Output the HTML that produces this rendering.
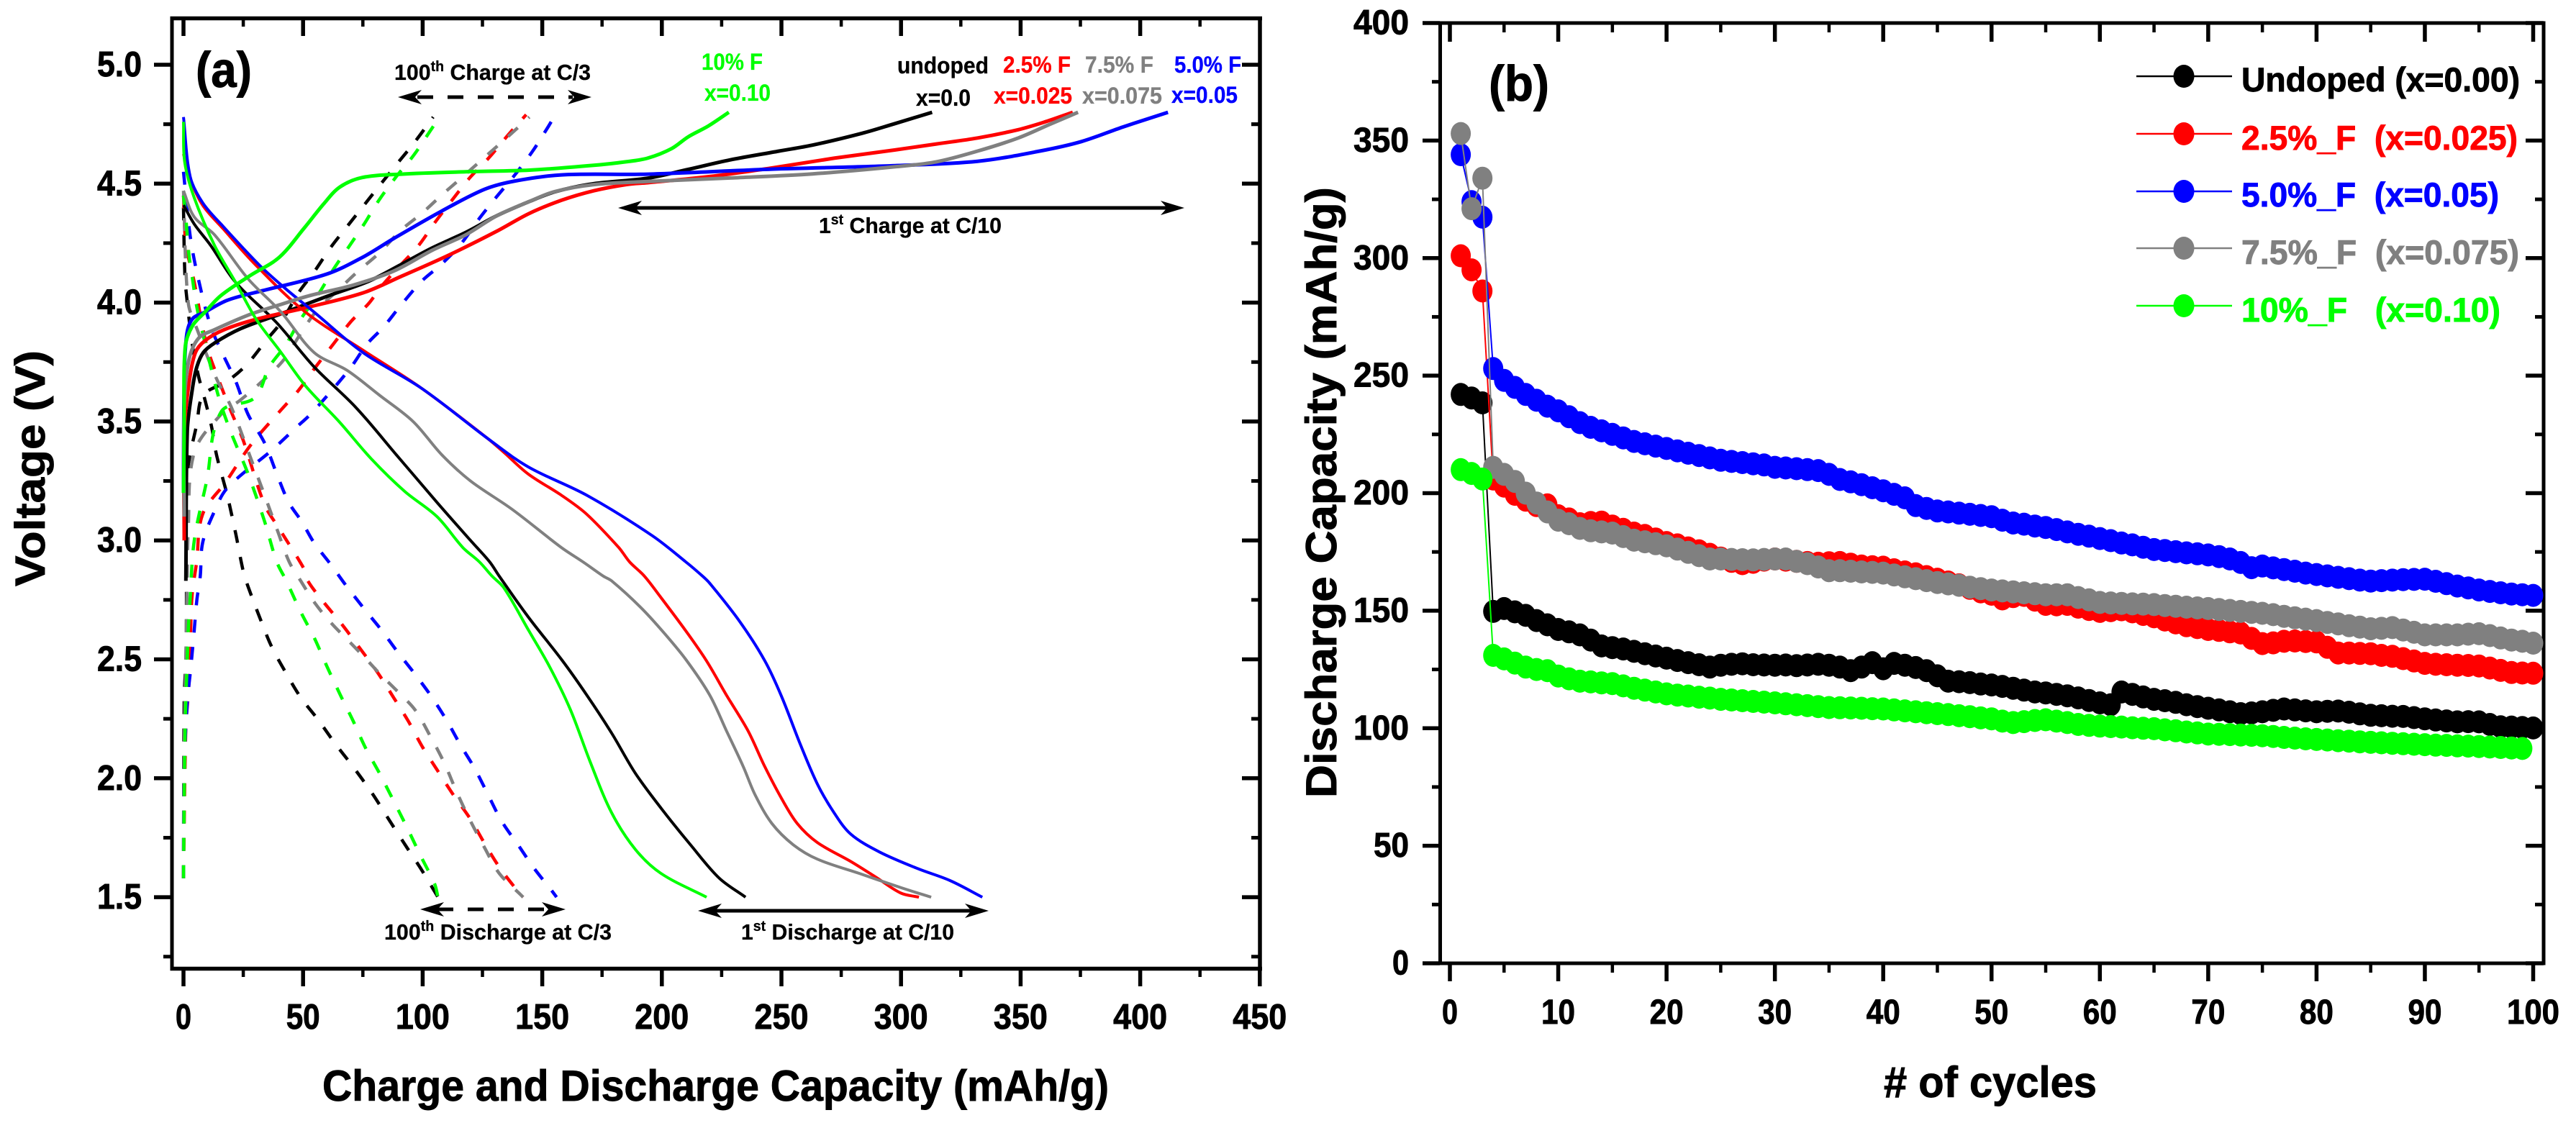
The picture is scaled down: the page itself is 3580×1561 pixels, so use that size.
<!DOCTYPE html>
<html lang="en">
<head>
<meta charset="utf-8">
<title>Charge/discharge voltage profiles and cycling capacity</title>
<style>
html,body{margin:0;padding:0;background:#fff;}
svg{display:block;}
text{font-family:"Liberation Sans",Arial,sans-serif;font-weight:bold;white-space:pre;}
</style>
</head>
<body>
<svg id="chart" xmlns="http://www.w3.org/2000/svg" width="3580" height="1561" viewBox="0 0 3580 1561">
  <rect x="0" y="0" width="3580" height="1561" fill="#fff"/>
  <g id="panelA"></g>
  <g id="panelB"></g>

  <g>
    <text x="272" y="121" font-size="70" textLength="78" lengthAdjust="spacingAndGlyphs">(a)</text>
    <text x="975" y="97" font-size="32" fill="#00ff00" textLength="85" lengthAdjust="spacingAndGlyphs">10% F</text>
    <text x="979" y="140" font-size="32" fill="#00ff00" textLength="92" lengthAdjust="spacingAndGlyphs">x=0.10</text>
    <text x="1247" y="102" font-size="32" fill="#000" textLength="127" lengthAdjust="spacingAndGlyphs">undoped</text>
    <text x="1394" y="101" font-size="32" fill="#ff0000" textLength="94" lengthAdjust="spacingAndGlyphs">2.5% F</text>
    <text x="1508" y="101" font-size="32" fill="#808080" textLength="95" lengthAdjust="spacingAndGlyphs">7.5% F</text>
    <text x="1632" y="101" font-size="32" fill="#0000ff" textLength="93" lengthAdjust="spacingAndGlyphs">5.0% F</text>
    <text x="1273" y="147" font-size="32" fill="#000" textLength="76" lengthAdjust="spacingAndGlyphs">x=0.0</text>
    <text x="1381" y="144" font-size="32" fill="#ff0000" textLength="109" lengthAdjust="spacingAndGlyphs">x=0.025</text>
    <text x="1504" y="144" font-size="32" fill="#808080" textLength="111" lengthAdjust="spacingAndGlyphs">x=0.075</text>
    <text x="1628" y="143" font-size="32" fill="#0000ff" textLength="92" lengthAdjust="spacingAndGlyphs">x=0.05</text>

    <text x="548" y="111" font-size="31" textLength="273" lengthAdjust="spacingAndGlyphs">100<tspan font-size="20" dy="-12">th</tspan><tspan dy="12"> Charge at C/3</tspan></text>
    <g>
      <line x1="580" y1="135" x2="796" y2="135" stroke="#000" stroke-width="5" stroke-dasharray="22 20"/>
      <polygon points="553,135 586,125 577,135 586,145" fill="#000"/>
      <polygon points="822,135 789,125 798,135 789,145" fill="#000"/>
    </g>
    <text x="1138" y="324" font-size="31" textLength="254" lengthAdjust="spacingAndGlyphs">1<tspan font-size="20" dy="-12">st</tspan><tspan dy="12"> Charge at C/10</tspan></text>
    <g>
      <line x1="880" y1="289" x2="1625" y2="289" stroke="#000" stroke-width="5"/>
      <polygon points="859,289 892,279 883,289 892,299" fill="#000"/>
      <polygon points="1646,289 1613,279 1622,289 1613,299" fill="#000"/>
    </g>
    <text x="534" y="1306" font-size="31" textLength="316" lengthAdjust="spacingAndGlyphs">100<tspan font-size="20" dy="-12">th</tspan><tspan dy="12"> Discharge at C/3</tspan></text>
    <g>
      <line x1="608" y1="1264" x2="765" y2="1264" stroke="#000" stroke-width="5" stroke-dasharray="22 20"/>
      <polygon points="584,1264 617,1254 608,1264 617,1274" fill="#000"/>
      <polygon points="786,1264 753,1254 762,1264 753,1274" fill="#000"/>
    </g>
    <text x="1030" y="1306" font-size="31" textLength="296" lengthAdjust="spacingAndGlyphs">1<tspan font-size="20" dy="-12">st</tspan><tspan dy="12"> Discharge at C/10</tspan></text>
    <g>
      <line x1="990" y1="1266" x2="1354" y2="1266" stroke="#000" stroke-width="5"/>
      <polygon points="970,1266 1003,1256 994,1266 1003,1276" fill="#000"/>
      <polygon points="1374,1266 1341,1256 1350,1266 1341,1276" fill="#000"/>
    </g>

    <text x="448" y="1530" font-size="60" textLength="1093" lengthAdjust="spacingAndGlyphs">Charge and Discharge Capacity (mAh/g)</text>
    <text transform="translate(62,815) rotate(-90)" x="0" y="0" font-size="58" textLength="328" lengthAdjust="spacingAndGlyphs">Voltage (V)</text>
  </g>

  <g>
    <text x="2069" y="140" font-size="70" textLength="84" lengthAdjust="spacingAndGlyphs">(b)</text>
    <text x="2618" y="1525" font-size="60" textLength="296" lengthAdjust="spacingAndGlyphs"># of cycles</text>
    <text transform="translate(1857,1109) rotate(-90)" x="0" y="0" font-size="60" textLength="849" lengthAdjust="spacingAndGlyphs">Discharge Capacity (mAh/g)</text>

    <g>
      <g>
        <line x1="2969" y1="106" x2="3102" y2="106" stroke="#000" stroke-width="2.5"/>
        <ellipse cx="3035" cy="106" rx="14.5" ry="16" fill="#000"/>
        <text x="3115" y="127" font-size="47" fill="#000" textLength="387" lengthAdjust="spacingAndGlyphs">Undoped (x=0.00)</text>
      </g>
      <g>
        <line x1="2969" y1="186" x2="3102" y2="186" stroke="#ff0000" stroke-width="2.5"/>
        <ellipse cx="3035" cy="186" rx="14.5" ry="16" fill="#ff0000"/>
        <text x="3115" y="208" font-size="47" fill="#ff0000" textLength="384" lengthAdjust="spacingAndGlyphs">2.5%_F  (x=0.025)</text>
      </g>
      <g>
        <line x1="2969" y1="266" x2="3102" y2="266" stroke="#0000ff" stroke-width="2.5"/>
        <ellipse cx="3035" cy="266" rx="14.5" ry="16" fill="#0000ff"/>
        <text x="3115" y="287" font-size="47" fill="#0000ff" textLength="358" lengthAdjust="spacingAndGlyphs">5.0%_F  (x=0.05)</text>
      </g>
      <g>
        <line x1="2969" y1="345" x2="3102" y2="345" stroke="#808080" stroke-width="2.5"/>
        <ellipse cx="3035" cy="345" rx="14.5" ry="16" fill="#808080"/>
        <text x="3115" y="367" font-size="47" fill="#808080" textLength="386" lengthAdjust="spacingAndGlyphs">7.5%_F  (x=0.075)</text>
      </g>
      <g>
        <line x1="2969" y1="425" x2="3102" y2="425" stroke="#00ff00" stroke-width="2.5"/>
        <ellipse cx="3035" cy="425" rx="14.5" ry="16" fill="#00ff00"/>
        <text x="3115" y="447" font-size="47" fill="#00ff00" textLength="360" lengthAdjust="spacingAndGlyphs">10%_F   (x=0.10)</text>
      </g>
    </g>
  </g>
</svg>

<script>
// ---------- Panel (a) data: [capacity mAh/g, voltage V] ----------
const firstDischargeBlack = [[0,4.41],[4.5,4.33],[11.4,4.24],[21.8,4.085],[39,3.915],[54.6,3.73],[72,3.56],[89,3.36],[106,3.16],[120,3.0],[128,2.91],[132,2.85],[144,2.68],[158,2.5],[168.6,2.35],[179,2.19],[189,2.02],[200,1.87],[212,1.72],[224,1.58],[235,1.5]];
const firstDischargeRed = [[0,4.625],[2.8,4.52],[8,4.41],[16.6,4.31],[30,4.16],[51,3.96],[75,3.8],[99.5,3.64],[127,3.43],[134,3.37],[144,3.28],[158,3.19],[168.6,3.11],[182,2.97],[186.5,2.91],[192.7,2.85],[199.6,2.76],[210,2.62],[218.6,2.495],[227,2.35],[236,2.2],[243,2.05],[250,1.916],[256.6,1.81],[265,1.73],[279,1.65],[289.5,1.584],[300,1.517],[307.5,1.5]];
const firstDischargeBlue = [[0,4.78],[2.8,4.53],[8,4.42],[16.6,4.32],[32,4.155],[42.5,4.06],[54.6,3.96],[75,3.79],[99.5,3.64],[127,3.43],[144,3.31],[168.6,3.19],[196,3.02],[210,2.91],[217,2.85],[220,2.82],[232.5,2.66],[243,2.495],[250,2.345],[258,2.14],[265,1.976],[272,1.855],[279,1.765],[291,1.69],[307,1.62],[320.5,1.57],[334,1.5]];
const firstDischargeGray = [[0,4.47],[4.5,4.36],[13,4.285],[27,4.1],[40.8,3.96],[54.6,3.79],[68.4,3.715],[82,3.61],[96,3.5],[108,3.36],[120,3.25],[137.5,3.13],[158,2.97],[167,2.91],[175.5,2.85],[179,2.83],[191,2.72],[201,2.61],[210,2.5],[220,2.35],[227,2.2],[234,2.05],[239,1.93],[246,1.81],[255,1.72],[265,1.66],[282.5,1.6],[300,1.54],[312.6,1.5]];
const firstDischargeGreen = [[0,4.76],[0.5,4.59],[4.5,4.44],[13,4.24],[21.8,4.085],[30.4,3.93],[40.8,3.79],[51,3.65],[65,3.5],[78.8,3.34],[92.6,3.205],[106,3.1],[116.8,2.97],[123.7,2.91],[129,2.85],[134,2.8],[144.4,2.62],[153,2.47],[161.7,2.29],[170,2.07],[179,1.855],[189,1.7],[199.6,1.6],[218.7,1.5]];

const firstChargeBlack = [[1,2.83],[1.6,3.46],[3.6,3.63],[5.6,3.73],[8.3,3.79],[13,3.83],[23.8,3.89],[40,3.95],[61,4.03],[77.5,4.09],[91,4.16],[104,4.23],[118,4.295],[131,4.365],[144.6,4.425],[155.4,4.466],[171.5,4.5],[194,4.523],[211,4.56],[228.6,4.6],[249,4.637],[263,4.662],[283.8,4.712],[297.6,4.753],[313,4.8]];
const firstChargeRed = [[0.3,3.0],[0.3,3.46],[2.3,3.66],[5,3.79],[9,3.84],[17,3.886],[30.5,3.93],[50.6,3.977],[74.8,4.04],[91,4.11],[111,4.2],[131,4.3],[144.6,4.375],[158,4.43],[171.5,4.47],[185,4.496],[194,4.504],[220,4.53],[246,4.566],[272,4.607],[297.6,4.642],[314.8,4.667],[332,4.692],[349,4.727],[359.7,4.758],[371.8,4.8]];
const firstChargeBlue = [[0,3.2],[0.3,3.66],[1.3,3.86],[3.6,3.93],[9,3.96],[18.4,4.01],[33,4.05],[60,4.12],[74.8,4.19],[88,4.27],[108,4.385],[125.8,4.476],[138,4.51],[158,4.537],[194,4.54],[246,4.561],[297.6,4.576],[332,4.594],[358,4.637],[375.4,4.677],[392.7,4.738],[411.6,4.8]];
const firstChargeGray = [[0.3,3.1],[0.3,3.56],[2.3,3.76],[6.3,3.85],[13,3.886],[27.8,3.95],[40,3.99],[53,4.03],[70.8,4.073],[88,4.133],[104,4.22],[118,4.285],[131,4.365],[144.6,4.425],[155,4.466],[171.5,4.496],[194,4.509],[228.6,4.524],[263,4.541],[297.6,4.571],[314.8,4.592],[332,4.637],[349,4.692],[363,4.753],[374,4.8]];
const firstChargeGreen = [[0,3.2],[0.3,3.46],[0.7,3.81],[3.6,3.9],[9,3.96],[15.7,4.03],[27.8,4.113],[40,4.19],[50.6,4.315],[58.7,4.416],[65.4,4.486],[74.8,4.526],[91,4.54],[118,4.55],[144.6,4.557],[171.5,4.577],[185,4.592],[194,4.607],[204,4.647],[211,4.697],[219.5,4.743],[228,4.8]];

const lastDischargeBlack = [[0,4.4],[0.6,4.11],[1.6,4.0],[3.6,3.83],[6.3,3.69],[9,3.59],[11.7,3.48],[13.8,3.36],[18.3,3.19],[21.8,3.03],[25,2.87],[27,2.806],[32.5,2.66],[37,2.55],[42.6,2.447],[49,2.34],[56,2.25],[63.4,2.146],[70.8,2.05],[78.8,1.938],[86.9,1.81],[93.6,1.706],[99.6,1.614],[106.4,1.5]];
const lastDischargeRed = [[0,4.45],[1,4.25],[4.5,4.085],[9.7,3.82],[14.9,3.67],[20,3.54],[25,3.42],[33.9,3.15],[40,3.05],[51,2.87],[52,2.83],[58,2.748],[66,2.65],[73.5,2.55],[81,2.447],[88,2.337],[94,2.24],[100,2.13],[106,2.036],[112.7,1.932],[120,1.828],[126,1.724],[132.5,1.62],[141,1.51],[142,1.5]];
const lastDischargeBlue = [[0,4.55],[2.8,4.28],[6.2,4.1],[11.4,3.9],[16.6,3.78],[21.8,3.67],[27,3.53],[33.9,3.41],[39,3.28],[44,3.16],[49.4,3.08],[54.6,2.99],[61.5,2.9],[68,2.81],[76,2.707],[83,2.62],[89.6,2.53],[97,2.435],[103.7,2.343],[110,2.244],[115.8,2.14],[121.8,2.04],[127,1.938],[133,1.82],[140,1.718],[146.7,1.62],[154,1.527],[156,1.5]];
const lastDischargeGray = [[0,4.47],[2,4.0],[6,3.88],[13.8,3.68],[20,3.56],[28.7,3.33],[33.9,3.19],[39,3.05],[44.2,2.91],[49,2.83],[55,2.736],[62,2.65],[68.8,2.58],[76,2.505],[82,2.44],[90,2.36],[97,2.285],[103,2.18],[109,2.065],[114.4,1.938],[120,1.82],[126,1.706],[132,1.6],[141,1.51],[142,1.5]];
const lastDischargeGreen = [[0,4.45],[0.9,4.365],[2.3,4.2],[3.6,4.11],[5.6,3.98],[8.3,3.86],[12.4,3.69],[15.7,3.57],[20,3.45],[27,3.28],[33.9,3.08],[39,2.91],[43,2.83],[49,2.7],[54.7,2.59],[60,2.47],[65.4,2.354],[70.8,2.244],[76,2.13],[82,2.02],[87.6,1.91],[93.6,1.79],[99,1.677],[105,1.556],[106.4,1.5]];

const lastChargeBlack = [[0,1.58],[0.3,2.33],[1,2.5],[1.2,2.62],[1.3,3.07],[1.8,3.3],[5.6,3.49],[8.3,3.61],[18.4,3.67],[26.5,3.74],[34.5,3.84],[41,3.92],[48,4.04],[54.7,4.13],[61.4,4.23],[68.8,4.325],[75.5,4.41],[81.5,4.486],[89,4.58],[96.3,4.67],[104.4,4.78]];
const lastChargeRed = [[0,1.58],[1,2.22],[2,2.35],[2.7,2.48],[3,2.62],[3.6,2.77],[5.5,2.91],[8,3.11],[18,3.25],[28,3.4],[40,3.54],[48,3.63],[55.3,3.73],[62.7,3.826],[70,3.92],[77.5,3.997],[82.9,4.07],[91,4.16],[98.3,4.24],[105,4.335],[113,4.44],[119.8,4.526],[127.8,4.61],[136,4.708],[143.3,4.79]];
const lastChargeBlue = [[0,1.58],[0.3,2.04],[1.6,2.32],[3,2.46],[4.3,2.6],[5.6,2.75],[7,2.85],[8,2.99],[12.4,3.11],[18.3,3.22],[37,3.38],[46.6,3.47],[54,3.54],[69.4,3.72],[76.8,3.826],[83.5,3.896],[91,3.99],[99.6,4.09],[107.7,4.16],[115.8,4.244],[123.8,4.355],[131,4.446],[138,4.53],[146,4.637],[152.7,4.743],[154.3,4.77]];
const lastChargeGray = [[0,1.58],[0.3,2.1],[0.7,2.35],[1,2.5],[1.2,2.655],[1.5,2.79],[2,3.05],[4.5,3.37],[15.7,3.53],[23.8,3.59],[33,3.67],[42,3.76],[49,3.87],[56,3.97],[65.4,4.06],[72.8,4.13],[82,4.21],[91,4.305],[99.6,4.375],[108.4,4.456],[116.4,4.526],[125.8,4.61],[134.6,4.688],[144.6,4.78]];
const lastChargeGreen = [[0,1.58],[0.5,2.09],[1,2.33],[1.6,2.5],[2,2.62],[2.7,2.74],[4.5,3.0],[9.7,3.25],[15.7,3.54],[29.8,3.6],[35.9,3.73],[42.6,3.82],[49,3.93],[56.7,4.04],[62.7,4.14],[68.8,4.23],[75.5,4.33],[81.7,4.43],[89,4.53],[96.3,4.62],[103.7,4.73],[105,4.75]];

const capacityTicks = [0,50,100,150,200,250,300,350,400,450];
const voltageTicks = ["1.5","2.0","2.5","3.0","3.5","4.0","4.5","5.0"];

// ---------- Panel (b) data: discharge capacity per cycle ----------
const cycleUndoped = [242,240.5,238.4,149.7,150.9,149.5,148,145.8,144,142,141,139.7,137.5,135,134.3,133.7,132.7,131.7,130.7,129.8,128.8,127.9,127,126,126.8,127.2,127.4,127,126.9,126.8,126.9,126.6,126.9,127.2,126.8,126,124.5,126,127.9,125.3,127.6,126.8,125.8,124.5,122.3,120,119.8,119.4,118.8,118.4,117.8,117,116.2,115.4,115,114.4,113.8,112.9,111.8,110.8,110,115.4,114.4,113.3,112.3,111.7,111,110,109.2,108.5,107.8,107,106.2,106.5,107,107.6,108.2,107.8,107.4,107,107.2,107.3,106.8,106.1,105.5,105.3,105.1,105,104.5,104,103.5,103.1,102.7,102.8,102.7,101.6,100.6,100.5,100.3,100.1];
const cycleF025 = [301,295,286,206,203,199.5,197,194.7,195,190.4,189,187,187.5,187.7,186,184.6,183,182,180.5,179,178,176.7,175.5,174,172.4,171,170,170.6,171.5,172,171.5,171,170.5,170.2,170.4,170.5,169.8,169,168.7,168.5,167.4,166.5,165.7,164.5,163.4,162.2,161,159.5,158,157,155,156,156.5,154.5,152.7,152.5,152.7,151.5,150.5,149.7,150,150.4,149.5,148.4,147.4,146,144.8,143.6,142.8,142,141.6,141,140.5,138.2,136,136.3,137,137.1,136.9,136.7,134.4,132,132,131.8,131.7,131,130.6,129.6,128.6,127.6,127.2,127,126.8,126.7,126.5,125.6,124.6,123.7,123.5,123.4];
const cycleF050 = [344,324,317.4,253,248,245,242,239.5,237,235,232.5,230,228,226.5,225,223.5,222,221,220,219,218,217,216,215,214,213.5,213,212.5,212,211,210.7,210.4,210,209.6,208,205.8,204.8,203.6,202.3,201,199.5,198,194.7,193.5,192.4,192,191.5,191,190.5,190,188.5,187.3,186.8,186,185.4,184.5,183.5,182.5,181.7,180.7,179.8,178.8,178,177,176,175.6,175.1,174.6,174.2,173.7,173,172,170.5,168.3,169,168.2,167.5,166.8,166,165.4,164.8,164.2,163.6,163,162.6,162.8,163,163.2,163.3,163.4,162.5,161.5,160.5,159.7,158.8,158.2,157.6,157.1,156.8,156.5];
const cycleF075 = [353,321,334,211,208,205,200,195.8,192,188.5,187,185,184,183.5,183,181.5,180,179.3,178.5,177.6,176.2,174.8,173.4,172,172,171.8,171.7,171.6,171.8,172,172,171,170,168.6,167,167,166.8,166.5,166.3,166,165.2,164.4,163.6,162.8,162,161.4,160.8,160,159.4,158.8,158.4,158,157.6,157.2,156.8,156.8,156.8,155.6,154.6,153.5,153.3,153.1,152.9,152.8,152.6,152.2,151.9,151.5,151.2,150.9,150.5,150.1,149.7,149.3,148.9,148.3,147.6,147,146.4,145.8,145,144.4,143.6,143,142.3,142.5,142.8,141.8,140.8,139.7,139.7,139.7,139.7,140,140.2,139.4,138.4,137.5,137,136.2];
const cycleF100 = [210,208.4,206,131,129.5,127.7,126,125,124.5,122.2,121,120,119.7,119.3,119,118,117,116.2,115.4,114.6,114.1,113.7,113.2,112.8,112.3,112,111.7,111.4,111.1,110.8,110.4,110,109.6,109.2,108.8,108.7,108.6,108.5,108.3,108.2,107.8,107.4,107,106.6,106.2,105.8,105.3,104.9,104.4,104,103,102.4,102.8,103.3,103.6,103,102.4,101.6,101.2,100.9,100.7,100.5,100.2,100,99.8,99.3,98.9,98.4,98,97.5,97.4,97.3,97.1,97,96.8,96.5,96.1,95.8,95.5,95.2,95,94.7,94.5,94.2,94,93.8,93.6,93.4,93.2,93,92.8,92.7,92.5,92.4,92.2,92,91.8,91.6,91.4];
const cycleTicks = [0,10,20,30,40,50,60,70,80,90,100];
const dischargeTicks = [0,50,100,150,200,250,300,350,400];

// ---------- Axis functions ----------
function xA(c){ return 255 + c * 3.324; }
function yA(v){ return 90 + (5 - v) * 330.6; }
function xB(n){ return 2015 + n * 15.055; }
function yB(q){ return 1339 - q * 3.2675; }

const NS = 'http://www.w3.org/2000/svg';
const panelA = document.getElementById('panelA');
const panelB = document.getElementById('panelB');

function seg(parent, name, x1, y1, x2, y2, w){
  const el = document.createElementNS(NS, 'line');
  
  
  el.setAttribute('x1', x1); el.setAttribute('y1', y1);
  el.setAttribute('x2', x2); el.setAttribute('y2', y2);
  el.setAttribute('stroke', '#000');
  el.setAttribute('stroke-width', w);
  parent.appendChild(el);
}
function label(parent, name, str, x, y, w, size){
  const el = document.createElementNS(NS, 'text');
  
  
  el.setAttribute('x', x); el.setAttribute('y', y);
  el.setAttribute('font-size', size);
  el.setAttribute('textLength', w);
  el.setAttribute('lengthAdjust', 'spacingAndGlyphs');
  el.textContent = str;
  parent.appendChild(el);
}
// Smooth path through the data points: tangent along neighbours, handles limited
// to a third of each segment so sharp corners near x=0 do not overshoot.
function smoothPath(pixels){
  function tangent(i){
    const a = pixels[Math.max(i - 1, 0)];
    const b = pixels[Math.min(i + 1, pixels.length - 1)];
    const dx = b[0] - a[0], dy = b[1] - a[1];
    const len = Math.hypot(dx, dy) || 1;
    return [dx / len, dy / len];
  }
  let d = 'M' + pixels[0][0].toFixed(1) + ' ' + pixels[0][1].toFixed(1);
  for (let i = 0; i < pixels.length - 1; i++) {
    const p = pixels[i], q = pixels[i + 1];
    const h = Math.hypot(q[0] - p[0], q[1] - p[1]) / 3;
    const t0 = tangent(i), t1 = tangent(i + 1);
    d += 'C' + (p[0] + t0[0] * h).toFixed(1) + ' ' + (p[1] + t0[1] * h).toFixed(1) +
         ' ' + (q[0] - t1[0] * h).toFixed(1) + ' ' + (q[1] - t1[1] * h).toFixed(1) +
         ' ' + q[0].toFixed(1) + ' ' + q[1].toFixed(1);
  }
  return d;
}
function curve(parent, name, pts, color, dashed, w){
  const el = document.createElementNS(NS, 'path');
  
  
  el.setAttribute('d', smoothPath(pts.map(function(p){ return [xA(p[0]), yA(p[1])]; })));
  el.setAttribute('fill', 'none');
  el.setAttribute('stroke', color);
  el.setAttribute('stroke-width', w);
  el.setAttribute('stroke-linejoin', 'round');
  if (dashed) el.setAttribute('stroke-dasharray', '18 20');
  parent.appendChild(el);
}
function series(name, vals, color){
  const g = document.createElementNS(NS, 'g');
  
  
  const line = document.createElementNS(NS, 'path');
  
  
  let d = '';
  vals.forEach(function(v, i){
    d += (i ? 'L' : 'M') + xB(i + 1).toFixed(1) + ' ' + yB(v).toFixed(1);
  });
  line.setAttribute('d', d);
  line.setAttribute('fill', 'none');
  line.setAttribute('stroke', color);
  line.setAttribute('stroke-width', 2);
  vals.forEach(function(v, i){
    const m = document.createElementNS(NS, 'ellipse');
    
    
    m.setAttribute('cx', xB(i + 1).toFixed(1));
    m.setAttribute('cy', yB(v).toFixed(1));
    m.setAttribute('rx', 14);
    m.setAttribute('ry', 16);
    m.setAttribute('fill', color);
    g.appendChild(m);
  });
  g.appendChild(line);
  panelB.appendChild(g);
}

// ---------- Panel (a) frame and ticks ----------
seg(panelA, 'left-axis-a', 239, 23, 239, 1349, 5);
seg(panelA, 'right-axis-a', 1751, 23, 1751, 1349, 5.5);
seg(panelA, 'top-axis-a', 236.5, 25.5, 1754, 25.5, 5.6);
seg(panelA, 'bottom-axis-a', 236.5, 1346.5, 1754, 1346.5, 5.4);

capacityTicks.forEach(function(t){
  const x = xA(t);
  seg(panelA, 'x-tick-bottom-a', x, 1346, x, 1371, 5.5);
  if (t < 450) seg(panelA, 'x-tick-top-a', x, 25, x, 50, 5.5);
  if (t < 450) {
    const xm = xA(t + 25);
    seg(panelA, 'x-minor-tick-bottom-a', xm, 1346, xm, 1358, 4.5);
    seg(panelA, 'x-minor-tick-top-a', xm, 25, xm, 37, 4.5);
  }
  const s = String(t);
  const w = s.length === 1 ? 22 : s.length === 2 ? 47 : 75;
  label(panelA, 'x-tick-label-a', s, x - w / 2, 1430, w, 49);
});
voltageTicks.forEach(function(t){
  const v = parseFloat(t);
  const y = yA(v);
  seg(panelA, 'y-tick-left-a', 214, y, 239, y, 5.5);
  seg(panelA, 'y-tick-right-a', 1726, y, 1751, y, 5.5);
  const ym = yA(v - 0.25);
  seg(panelA, 'y-minor-tick-left-a', 227, ym, 239, ym, 5);
  seg(panelA, 'y-minor-tick-right-a', 1739, ym, 1751, ym, 5);
  label(panelA, 'y-tick-label-a', t, 135, y + 16, 62, 49);
});
const ymTop = yA(4.75);
seg(panelA, 'y-minor-tick-left-a', 227, ymTop, 239, ymTop, 5);
seg(panelA, 'y-minor-tick-right-a', 1739, ymTop, 1751, ymTop, 5);

// ---------- Panel (a) curves ----------
curve(panelA, 'hundredth-charge-undoped', lastChargeBlack, '#000', true, 4.5);
curve(panelA, 'hundredth-discharge-undoped', lastDischargeBlack, '#000', true, 4.5);
curve(panelA, 'hundredth-charge-2-5pct', lastChargeRed, '#ff0000', true, 4.5);
curve(panelA, 'hundredth-discharge-2-5pct', lastDischargeRed, '#ff0000', true, 4.5);
curve(panelA, 'hundredth-charge-5-0pct', lastChargeBlue, '#0000ff', true, 4.5);
curve(panelA, 'hundredth-discharge-5-0pct', lastDischargeBlue, '#0000ff', true, 4.5);
curve(panelA, 'hundredth-charge-7-5pct', lastChargeGray, '#808080', true, 4.5);
curve(panelA, 'hundredth-discharge-7-5pct', lastDischargeGray, '#808080', true, 4.5);
curve(panelA, 'hundredth-charge-10pct', lastChargeGreen, '#00ff00', true, 4.5);
curve(panelA, 'hundredth-discharge-10pct', lastDischargeGreen, '#00ff00', true, 4.5);

curve(panelA, 'first-discharge-undoped', firstDischargeBlack, '#000', false, 4);
curve(panelA, 'first-charge-undoped', firstChargeBlack, '#000', false, 5);
curve(panelA, 'first-discharge-2-5pct', firstDischargeRed, '#ff0000', false, 4);
curve(panelA, 'first-charge-2-5pct', firstChargeRed, '#ff0000', false, 5);
curve(panelA, 'first-discharge-5-0pct', firstDischargeBlue, '#0000ff', false, 4);
curve(panelA, 'first-charge-5-0pct', firstChargeBlue, '#0000ff', false, 5);
curve(panelA, 'first-discharge-7-5pct', firstDischargeGray, '#808080', false, 4);
curve(panelA, 'first-charge-7-5pct', firstChargeGray, '#808080', false, 5);
curve(panelA, 'first-discharge-10pct', firstDischargeGreen, '#00ff00', false, 4);
curve(panelA, 'first-charge-10pct', firstChargeGreen, '#00ff00', false, 5);

// ---------- Panel (b) frame and ticks ----------
seg(panelB, 'left-axis-b', 2001.5, 30, 2001.5, 1341, 5);
seg(panelB, 'right-axis-b', 3535, 30, 3535, 1341, 5);
seg(panelB, 'top-axis-b', 1977, 32, 3537.5, 32, 5);
seg(panelB, 'bottom-axis-b', 1977, 1339, 3537.5, 1339, 5);

cycleTicks.forEach(function(t){
  const x = xB(t);
  seg(panelB, 'x-tick-bottom-b', x, 1339, x, 1364, 5.5);
  seg(panelB, 'x-tick-top-b', x, 32, x, 58, 5.5);
  if (t < 100) {
    const xm = xB(t + 5);
    seg(panelB, 'x-minor-tick-bottom-b', xm, 1339, xm, 1352, 4.5);
    seg(panelB, 'x-minor-tick-top-b', xm, 32, xm, 45, 4.5);
  }
  const s = String(t);
  const w = s.length === 1 ? 22 : s.length === 2 ? 47 : 73;
  label(panelB, 'x-tick-label-b', s, x - w / 2, 1423, w, 48);
});
dischargeTicks.forEach(function(t){
  const y = yB(t);
  seg(panelB, 'y-tick-left-b', 1977, y, 2001, y, 5.5);
  seg(panelB, 'y-tick-right-b', 3510, y, 3535, y, 5.5);
  if (t < 400) {
    const ym = yB(t + 25);
    seg(panelB, 'y-minor-tick-left-b', 1990, ym, 2001, ym, 5);
    seg(panelB, 'y-minor-tick-right-b', 3523, ym, 3535, ym, 5);
  }
  const s = String(t);
  const w = s.length === 1 ? 23 : s.length === 2 ? 49 : 77;
  label(panelB, 'y-tick-label-b', s, 1958 - w, y + 15.5, w, 48);
});

// ---------- Panel (b) series ----------
series('series-undoped', cycleUndoped, '#000');
series('series-2-5pct-f', cycleF025, '#ff0000');
series('series-5-0pct-f', cycleF050, '#0000ff');
series('series-7-5pct-f', cycleF075, '#808080');
series('series-10pct-f', cycleF100, '#00ff00');

// Slightly heavier glyphs, matching the dense bold lettering of the reference
document.querySelectorAll('#chart text').forEach(function(t){
  const size = parseFloat(t.getAttribute('font-size'));
  t.setAttribute('stroke', t.getAttribute('fill') || '#000');
  t.setAttribute('stroke-width', size >= 47 ? 0.9 : 0.3);
});
</script>
</body>
</html>
